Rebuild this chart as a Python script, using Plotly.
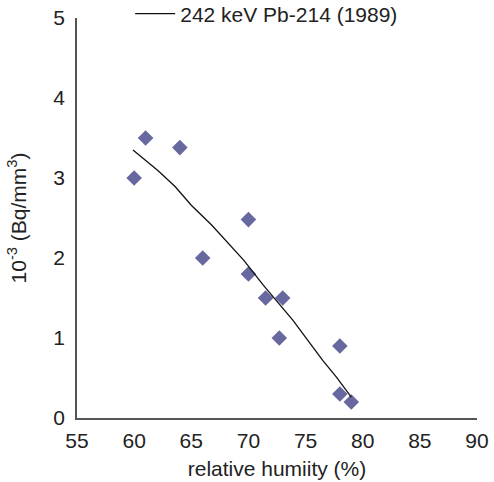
import plotly.graph_objects as go

# Measured points
humidity = [60, 61, 64, 70, 66, 70, 71.5, 73, 72.7, 78, 78, 79]
activity = [3.0, 3.5, 3.38, 2.48, 2.0, 1.8, 1.5, 1.5, 1.0, 0.9, 0.3, 0.2]

# Trend curve
trend_x = [59.9, 62.1, 63.6, 65.0, 66.8, 68.0, 69.6, 71.3, 72.8, 73.9, 75.2, 76.5, 77.7, 79.0]
trend_y = [3.35, 3.09, 2.89, 2.66, 2.41, 2.22, 1.97, 1.66, 1.41, 1.22, 0.97, 0.72, 0.51, 0.26]

x_ticks = [55, 60, 65, 70, 75, 80, 85, 90]
y_ticks = [0, 1, 2, 3, 4, 5]

fig = go.Figure()
fig.add_trace(go.Scatter(
    x=humidity, y=activity, mode="markers",
    marker=dict(symbol="diamond", size=12, color="#6868A0"),
    showlegend=False,
))
fig.add_trace(go.Scatter(
    x=trend_x, y=trend_y, mode="lines",
    line=dict(color="#111111", width=1.3),
    name="242 keV Pb-214 (1989)",
))

font = "Liberation Sans, Arial, sans-serif"
fig.update_layout(
    width=494, height=482,
    margin=dict(l=77, r=17, t=18, b=64, autoexpand=False),
    paper_bgcolor="white", plot_bgcolor="white",
    font=dict(family=font, size=21, color="#222222"),
    showlegend=True,
    legend=dict(x=0.133, y=1.01, xanchor="left", yanchor="middle",
                bgcolor="rgba(0,0,0,0)", font=dict(size=21, color="#222222"),
                itemwidth=40),
    xaxis=dict(range=[55, 90], tickvals=x_ticks, showgrid=False, zeroline=False,
               showline=True, linecolor="#555555", linewidth=1.5,
               ticks="outside", ticklen=3, tickcolor="white",
               title=dict(text="relative humiity (%)", font=dict(size=21), standoff=10)),
    yaxis=dict(range=[0, 5], tickvals=y_ticks, showgrid=False, zeroline=False,
               showline=True, linecolor="#555555", linewidth=1.5,
               ticks="outside", ticklen=6, tickcolor="white",
               title=dict(text="10<sup>-3</sup> (Bq/mm<sup>3</sup>)", font=dict(size=21), standoff=21)),
)

fig.write_html("out.html")
